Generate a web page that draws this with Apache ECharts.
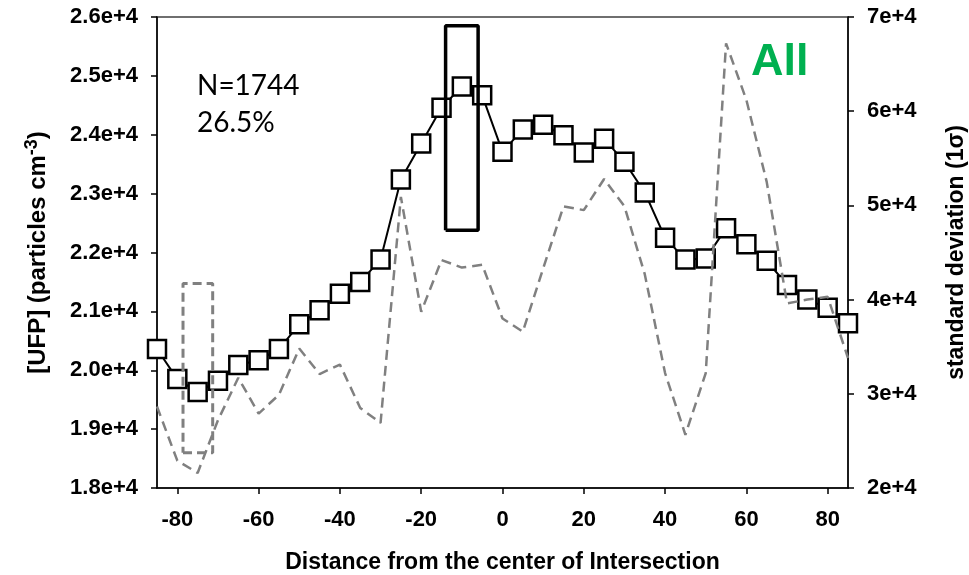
<!DOCTYPE html>
<html>
<head>
<meta charset="utf-8">
<script src="https://cdn.jsdelivr.net/npm/echarts@6/dist/echarts.min.js"></script>
<style>
html,body{margin:0;padding:0;background:#fff;}
#chart{width:969px;height:575px;}
</style>
</head>
<body>
<div id="chart"></div>
<script>
// Distance from the center of intersection (m)
const distance = [-85,-80,-75,-70,-65,-60,-55,-50,-45,-40,-35,-30,-25,-20,-15,-10,-5,0,5,10,15,20,25,30,35,40,45,50,55,60,65,70,75,80,85];
// Mean UFP concentration (particles cm^-3), left axis
const ufpMean = [20360,19850,19630,19820,20090,20170,20360,20780,21020,21300,21500,21880,23240,23850,24460,24820,24670,23710,24090,24170,23990,23700,23930,23540,23020,22250,21880,21900,22410,22140,21860,21450,21200,21060,20800];
// Standard deviation (1 sigma), right axis
const ufpStd = [28650,22900,21600,27200,31700,27900,29900,34800,32100,33100,28500,26900,50900,38700,44200,43400,43700,38000,36600,43300,49900,49500,52800,49900,42700,32200,25650,32200,67200,61200,52500,39600,40000,40300,33800];
// Highlight boxes (x range, left-axis y range)
const boxSolidX = [-14, -6];
const boxSolidY = [22380, 25850];
const boxDashX = [-78.6, -71.3];
const boxDashY = [18600, 21475];
// Axis ticks
const xTicks = [-80,-60,-40,-20,0,20,40,60,80];
const annotN = 'N=1744';
const annotPct = '26.5%';
const annotGroup = 'All';

function rect(xr, yr) {
  return [[xr[0], yr[0]], [xr[1], yr[0]], [xr[1], yr[1]], [xr[0], yr[1]], [xr[0], yr[0]]];
}

const FONT = '"Liberation Sans", Arial, sans-serif';
const chart = echarts.init(document.getElementById('chart'), null, {renderer: 'canvas'});
chart.setOption({
  animation: false,
  backgroundColor: '#ffffff',
  grid: {left: 157, right: 121, top: 17, bottom: 87, containLabel: false, outerBoundsMode: 'none',
    show: true, borderColor: '#404040', borderWidth: 1.5, backgroundColor: 'transparent'},
  xAxis: {
    type: 'value', min: -85, max: 85,
    name: 'Distance from the center of Intersection',
    nameLocation: 'middle', nameGap: 63,
    nameTextStyle: {fontFamily: FONT, fontWeight: 'bold', fontSize: 23, color: '#000'},
    axisLine: {show: true, onZero: false, lineStyle: {color: '#000', width: 1.5}},
    axisTick: {show: true, inside: false, length: 6, customValues: xTicks, lineStyle: {color: '#000', width: 1.5}},
    axisLabel: {customValues: xTicks, margin: 21, fontFamily: FONT, fontWeight: 'bold', fontSize: 22, color: '#000'},
    splitLine: {show: false}
  },
  yAxis: [{
    type: 'value', min: 18000, max: 26000, interval: 1000, position: 'left',
    name: '[UFP] (particles cm{sup|-3})',
    nameLocation: 'middle', nameGap: 103, nameRotate: 90,
    nameTextStyle: {fontFamily: FONT, fontWeight: 'bold', fontSize: 24, color: '#000',
      rich: {sup: {fontFamily: FONT, fontWeight: 'bold', fontSize: 18, color: '#000', verticalAlign: 'top', padding: [0,0,13,0]}}},
    axisLine: {show: true, onZero: false, lineStyle: {color: '#000', width: 1.5}},
    axisTick: {show: true, inside: false, length: 6, lineStyle: {color: '#000', width: 1.5}},
    axisLabel: {margin: 19, fontFamily: FONT, fontWeight: 'bold', fontSize: 22, color: '#000',
      formatter: v => (v / 10000).toFixed(1) + 'e+4'},
    splitLine: {show: false}
  }, {
    type: 'value', min: 20000, max: 70000, interval: 10000, position: 'right',
    name: 'standard deviation (1σ)',
    nameLocation: 'middle', nameGap: 97, nameRotate: 90,
    nameTextStyle: {fontFamily: FONT, fontWeight: 'bold', fontSize: 23, color: '#000'},
    axisLine: {show: true, onZero: false, lineStyle: {color: '#000', width: 1.5}},
    axisTick: {show: true, inside: false, length: 6, lineStyle: {color: '#000', width: 1.5}},
    axisLabel: {margin: 19, fontFamily: FONT, fontWeight: 'bold', fontSize: 22, color: '#000',
      formatter: v => (v / 10000) + 'e+4'},
    splitLine: {show: false}
  }],
  series: [{
    name: 'mean', type: 'line', yAxisIndex: 0, z: 2,
    data: distance.map((d, i) => [d, ufpMean[i]]),
    symbol: 'rect', symbolSize: 18,
    itemStyle: {color: '#ffffff', borderColor: '#000', borderWidth: 2.5},
    lineStyle: {color: '#000', width: 2}
  }, {
    name: 'std', type: 'line', yAxisIndex: 1, z: 3,
    data: distance.map((d, i) => [d, ufpStd[i]]),
    symbol: 'none',
    lineStyle: {color: '#808080', width: 2.5, type: [10, 6]}
  }, {
    name: 'boxSolid', type: 'line', yAxisIndex: 0, z: 4, silent: true,
    data: rect(boxSolidX, boxSolidY), symbol: 'none',
    lineStyle: {color: '#000', width: 3.5}
  }, {
    name: 'boxDash', type: 'line', yAxisIndex: 0, z: 4, silent: true,
    data: rect(boxDashX, boxDashY), symbol: 'none',
    lineStyle: {color: '#808080', width: 3, type: [9, 5]}
  }],
  graphic: [
    {type: 'text', left: 197, top: 72, z: 10, style: {text: annotN, font: '28px Lato, "Open Sans", sans-serif', fill: '#000'}},
    {type: 'text', left: 197, top: 109, z: 10, style: {text: annotPct, font: '28px Lato, "Open Sans", sans-serif', fill: '#000'}},
    {type: 'text', left: 751, top: 40, z: 10, style: {text: annotGroup, font: 'bold 45px "Liberation Sans", Arial, sans-serif', fill: '#00B050'}}
  ]
});
</script>
</body>
</html>
